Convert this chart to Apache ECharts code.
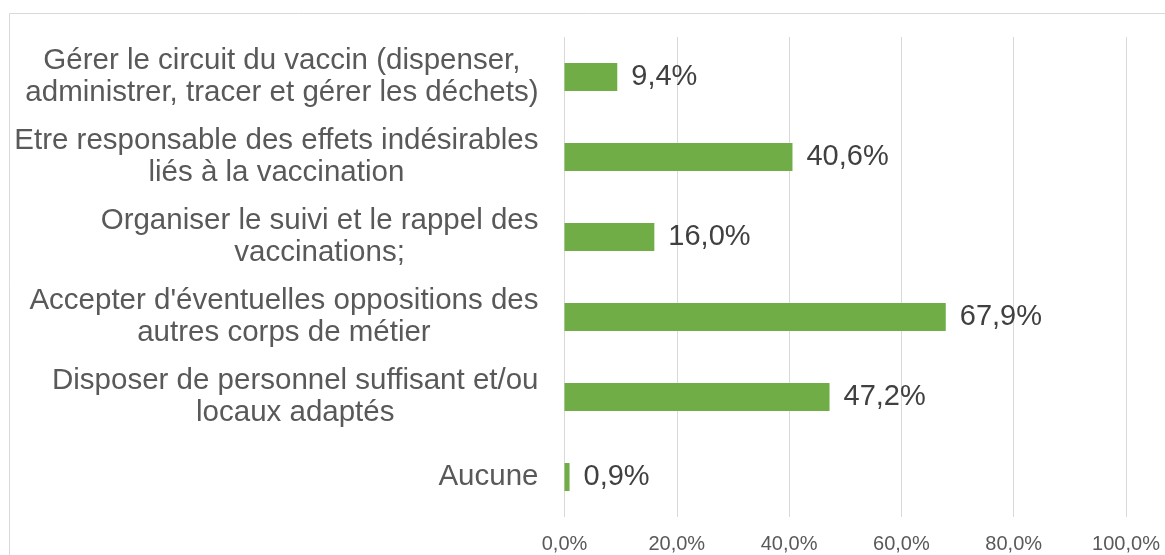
<!DOCTYPE html>
<html>
<head>
<meta charset="utf-8">
<script src="https://cdn.jsdelivr.net/npm/echarts@6/dist/echarts.min.js"></script>
<style>
html,body{margin:0;padding:0;background:#fff;}
#chart{width:1165px;height:555px;}
</style>
</head>
<body>
<div id="chart"></div>
<script>
const categories = [
  "Gérer le circuit du vaccin (dispenser,\nadministrer, tracer et gérer les déchets)",
  "Etre responsable des effets indésirables\nliés à la vaccination",
  "Organiser le suivi et le rappel des\nvaccinations;",
  "Accepter d'éventuelles oppositions des\nautres corps de métier",
  "Disposer de personnel suffisant et/ou\nlocaux adaptés",
  "Aucune"
];
const values = [9.4, 40.6, 16.0, 67.9, 47.2, 0.9];
const axisMin = 0, axisMax = 100, axisStep = 20;

const fmt = v => v.toFixed(1).replace('.', ',') + '%';
const FONT = "'Liberation Sans', Arial, sans-serif";

const chart = echarts.init(document.getElementById('chart'), null, {renderer: 'canvas'});
chart.setOption({
  backgroundColor: '#ffffff',
  animation: false,
  graphic: [{
    type: 'rect',
    shape: {x: 9.5, y: 13.5, width: 1300, height: 700},
    style: {fill: 'none', stroke: '#d9d9d9', lineWidth: 1},
    silent: true, z: -10
  }],
  grid: {left: 564.5, right: 39, top: 37, bottom: 38, containLabel: false},
  xAxis: {
    type: 'value', min: axisMin, max: axisMax, interval: axisStep,
    axisLine: {show: false}, axisTick: {show: false},
    splitLine: {show: true, lineStyle: {color: '#d9d9d9', width: 1}},
    axisLabel: {formatter: fmt, color: '#595959', fontSize: 20, fontFamily: FONT, margin: 17}
  },
  yAxis: {
    type: 'category', data: categories, inverse: true,
    axisLine: {show: false}, axisTick: {show: false},
    axisLabel: {
      interval: 0, margin: 26, align: 'right',
      formatter: v => '{a|' + v + '}',
      rich: {a: {align: 'center', fontSize: 29.5, lineHeight: 32, color: '#595959', fontFamily: FONT}}
    }
  },
  series: [{
    type: 'bar', data: values, barWidth: 28,
    itemStyle: {color: '#70ad47'},
    label: {
      show: true, position: 'right', distance: 14,
      formatter: p => fmt(p.value),
      color: '#404040', fontSize: 29, fontFamily: FONT
    }
  }]
});
</script>
</body>
</html>
